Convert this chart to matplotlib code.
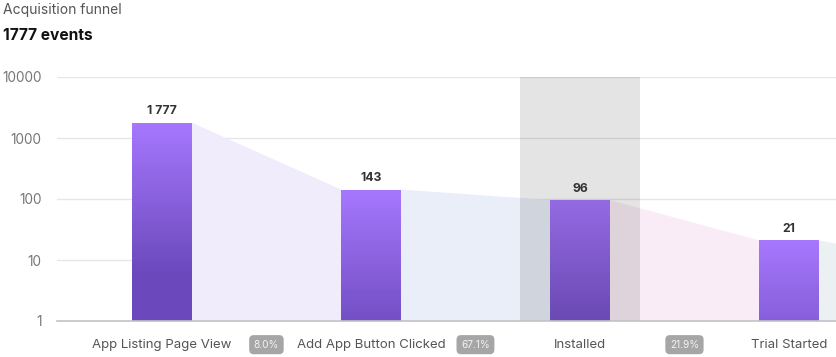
import numpy as np
import matplotlib.pyplot as plt
from matplotlib.colors import LinearSegmentedColormap

plt.rcParams['font.family'] = ['Inter', 'DejaVu Sans']

steps = ["App Listing Page View", "Add App Button Clicked", "Installed", "Trial Started"]
counts = [1777, 143, 96, 21]
count_labels = ["1 777", "143", "96", "21"]
conversion = ["8.0%", "67.1%", "21.9%"]
tail_value = 18.5  # where the last fill segment ends at the right edge
fill_colors = ["#f0ecfc", "#e9eef8", "#f9ecf6", "#ebf0f3"]
highlight = 2

W, H = 836, 357
fig = plt.figure(figsize=(W / 100, H / 100), dpi=100)
ax = fig.add_axes([57 / W, (H - 321) / H, 779 / W, (321 - 77) / H])
ax.set_yscale("log")
ax.set_ylim(1, 10000)
ax.set_xlim(-0.502, 3.225)
x = np.arange(len(steps))
bw = 0.287

# grid
for v in [10, 100, 1000, 10000]:
    ax.axhline(v, color="#e6e6e6", lw=1, zorder=0)
ax.axhline(1, color="#c2c2c6", lw=1.2, zorder=5, clip_on=False)

# funnel fill between bars
for i in range(len(counts)):
    x0 = x[i] + bw / 2
    if i + 1 < len(counts):
        x1, y1 = x[i + 1] - bw / 2, counts[i + 1]
    else:
        x1, y1 = ax.get_xlim()[1], tail_value
    ax.fill([x0, x1, x1, x0], [counts[i], y1, 1, 1], color=fill_colors[i], lw=0, zorder=1)

# gradient bars made of thin stacked strips
cmap = LinearSegmentedColormap.from_list("bar", ["#a677fd", "#6b49bc"])
px_per_decade = 61.0
for xi, c in zip(x, counts):
    edges = np.geomspace(1, c, 90)
    for lo, hi in zip(edges[:-1], edges[1:]):
        dist = np.log10(c / np.sqrt(lo * hi)) * px_per_decade
        col = cmap(min(dist / 150.0, 1.0))
        ax.bar(xi, hi - lo, bottom=lo, width=bw, color=col, lw=0, antialiased=False, zorder=3)
for xi, c, lab in zip(x, counts, count_labels):
    ax.annotate(lab, (xi, c), xytext=(0, 4), textcoords="offset points", ha="center",
                va="bottom", fontsize=8.8, fontweight="bold", color="#333333", zorder=6)

# highlighted step
ax.axvspan(highlight - 0.287, highlight + 0.287, ymin=0, ymax=1, color="black", alpha=0.105, lw=0, zorder=4)

ax.set_xticks([])
ax.set_yticks([1, 10, 100, 1000, 10000])
ax.set_yticklabels(["1", "10", "100", "1000", "10000"])
ax.yaxis.set_minor_locator(plt.NullLocator())
ax.tick_params(axis="y", length=0, pad=11, labelsize=9.8, labelcolor="#777777")
for s in ax.spines.values():
    s.set_visible(False)

# step labels and conversion badges
for xi, name in zip(x, steps):
    ax.text(xi, -0.097, name, transform=ax.get_xaxis_transform(), ha="center", va="center",
            fontsize=9.5, color="#555555")
for i, pct in enumerate(conversion):
    ax.text(x[i] + 0.5, -0.097, pct, transform=ax.get_xaxis_transform(), ha="center", va="center",
            fontsize=7.3, color="#f2f2f2",
            bbox=dict(boxstyle="round,pad=0.45,rounding_size=0.45", fc="#a6a6a6", ec="none"))

fig.text(3 / W, 1 - 10 / H, "Acquisition funnel", ha="left", va="center", fontsize=10, color="#555555")
fig.text(3 / W, 1 - 35 / H, "1777 events", ha="left", va="center", fontsize=11.2, fontweight="bold",
         color="#111111")

fig.savefig("out.png", dpi=100)
